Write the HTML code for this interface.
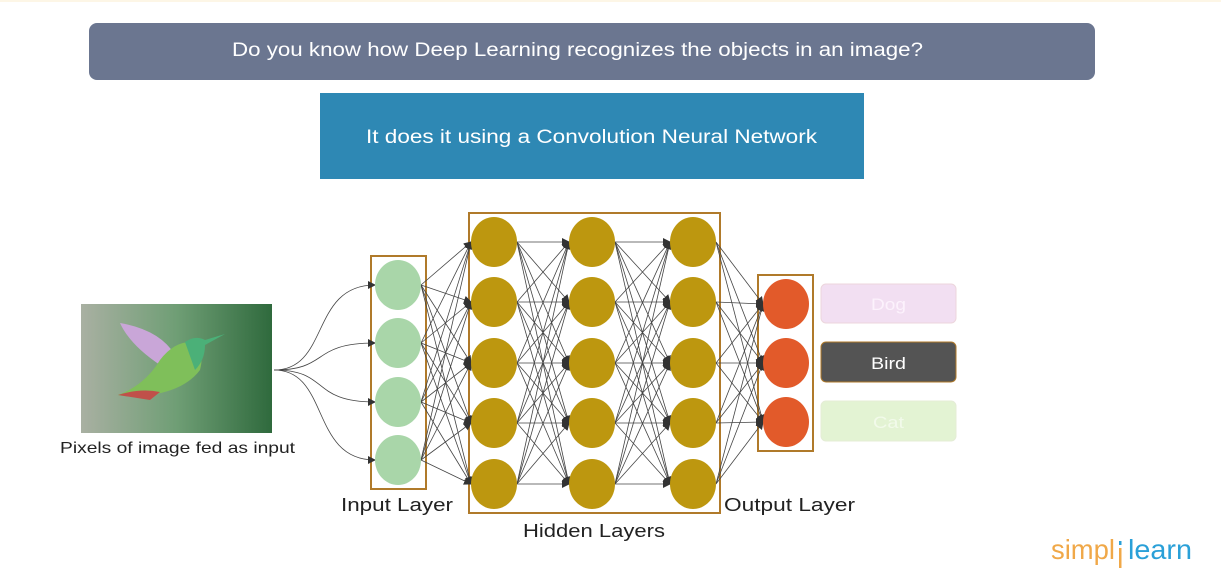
<!DOCTYPE html>
<html><head><meta charset="utf-8"><style>
body{margin:0;width:1221px;height:572px;background:#fff;overflow:hidden;font-family:"Liberation Sans",sans-serif;position:relative}
.a{position:absolute}
</style></head><body>
<div class="a" style="left:0;top:0;width:1221px;height:2px;background:#fdf6e6"></div>
<div class="a" style="left:89px;top:23px;width:1006px;height:57px;background:#6b7690;border-radius:8px"></div>
<div class="a" style="left:320px;top:93px;width:544px;height:86px;background:#2e88b4"></div>
<svg class="a" style="left:0;top:0" width="1221" height="572" id="s">
<defs>
<linearGradient id="bg" x1="0" x2="1" y1="0" y2="0"><stop offset="0" stop-color="#a9b0a2"/><stop offset="0.5" stop-color="#6f9e75"/><stop offset="1" stop-color="#2f6a3d"/></linearGradient>
<marker id="m" markerWidth="8" markerHeight="8" refX="7" refY="4" orient="auto" markerUnits="userSpaceOnUse"><path d="M0,0 L8,4 L0,8z" fill="#333"/></marker>
</defs>
<text x="232" y="56" fill="#fff" font-size="19" textLength="691" lengthAdjust="spacingAndGlyphs">Do you know how Deep Learning recognizes the objects in an image?</text>
<text x="366" y="143" fill="#fff" font-size="19" textLength="451" lengthAdjust="spacingAndGlyphs">It does it using a Convolution Neural Network</text>
<rect x="81" y="304" width="191" height="129" fill="url(#bg)"/>
<path d="M120,323 Q160,330 175,355 L160,365 Q130,345 120,323z" fill="#c9a6d8"/>
<path d="M160,360 Q175,340 195,342 Q205,350 200,370 Q185,390 150,395 Q130,398 118,395 Q145,385 160,360z" fill="#7fbf5a"/>
<path d="M185,342 Q195,335 205,340 L225,334 L205,345 Q205,360 195,370z" fill="#4bb078"/>
<path d="M118,395 Q140,388 160,392 L150,400z" fill="#c0504a"/>
<rect x="371" y="256" width="55" height="233" fill="none" stroke="#b07a2a" stroke-width="2"/>
<rect x="469" y="213" width="251" height="300" fill="none" stroke="#b07a2a" stroke-width="2"/>
<rect x="758" y="275" width="55" height="176" fill="none" stroke="#b07a2a" stroke-width="2"/>
<g id="lines" stroke="#444" stroke-width="0.8" fill="none"></g>
<g id="nodes"></g>
<rect x="821" y="284" width="135" height="39" rx="5" fill="#f2dff2" stroke="#ecd6dc"/>
<rect x="821" y="342" width="135" height="40" rx="5" fill="#545454" stroke="#b07a2a"/>
<rect x="821" y="401" width="135" height="40" rx="5" fill="#e3f3d3" stroke="#e4ecd6"/>
<text x="871" y="310" fill="#fcf2fc" font-size="17" textLength="35" lengthAdjust="spacingAndGlyphs">Dog</text>
<text x="871" y="369" fill="#fff" font-size="17" textLength="35" lengthAdjust="spacingAndGlyphs">Bird</text>
<text x="873" y="428" fill="#f2faea" font-size="17" textLength="31" lengthAdjust="spacingAndGlyphs">Cat</text>
<text x="60" y="453" fill="#222" font-size="16" textLength="235" lengthAdjust="spacingAndGlyphs">Pixels of image fed as input</text>
<text x="341" y="511" fill="#222" font-size="18" textLength="112" lengthAdjust="spacingAndGlyphs">Input Layer</text>
<text x="523" y="537" fill="#222" font-size="18" textLength="142" lengthAdjust="spacingAndGlyphs">Hidden Layers</text>
<text x="724" y="511" fill="#222" font-size="18" textLength="131" lengthAdjust="spacingAndGlyphs">Output Layer</text>
<text x="1051" y="559" fill="#f0a848" font-size="28" textLength="64" lengthAdjust="spacingAndGlyphs">simpl</text>
<text x="1128" y="559" fill="#2aa0d8" font-size="28" textLength="64" lengthAdjust="spacingAndGlyphs">learn</text>
<rect x="1119" y="548" width="2.5" height="20" fill="#f0a848"/>
<rect x="1119" y="541" width="2.5" height="4" fill="#2aa0d8"/>
</svg>
<script>
var NS="http://www.w3.org/2000/svg";
var L=document.getElementById("lines"),N=document.getElementById("nodes");
var cols=[{x:398,ys:[285,343,402,460],c:"#a9d6a9"},{x:494,ys:[242,302,363,423,484],c:"#bd970f"},{x:592,ys:[242,302,363,423,484],c:"#bd970f"},{x:693,ys:[242,302,363,423,484],c:"#bd970f"},{x:786,ys:[304,363,422],c:"#e25a2a"}];
var rx=23,ry=25;
function el(t,a,p){var e=document.createElementNS(NS,t);for(var k in a)e.setAttribute(k,a[k]);p.appendChild(e);return e;}
cols[0].ys.forEach(function(y){el("path",{d:"M274,370 C330,370 310,"+y+" "+(398-rx)+","+y,"marker-end":"url(#m)"},L);});
for(var i=0;i<4;i++){var a=cols[i],b=cols[i+1];a.ys.forEach(function(y1){b.ys.forEach(function(y2){el("line",{x1:a.x+rx,y1:y1,x2:b.x-rx,y2:y2,"marker-end":"url(#m)"},L);});});}
cols.forEach(function(c){c.ys.forEach(function(y){el("ellipse",{cx:c.x,cy:y,rx:rx,ry:ry,fill:c.c},N);});});
</script>
</body></html>
